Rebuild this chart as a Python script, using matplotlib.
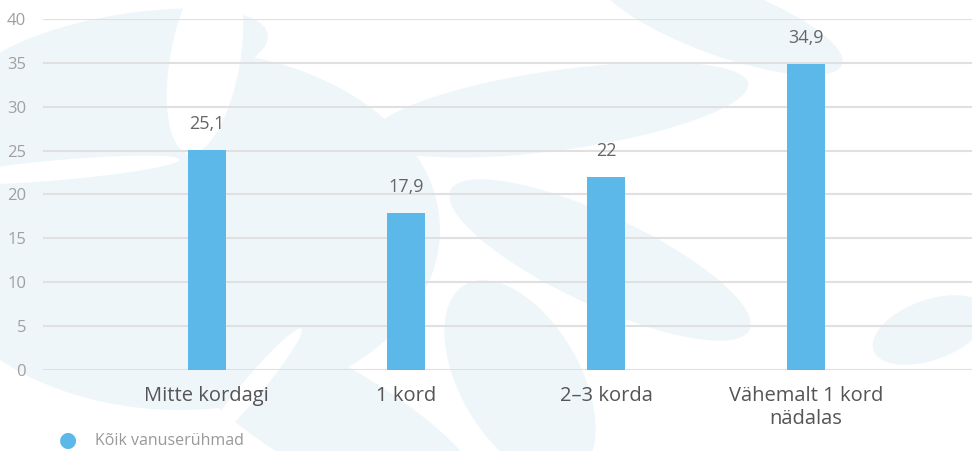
import matplotlib.pyplot as plt
from matplotlib.patches import Ellipse

categories = ['Mitte kordagi', '1 kord', '2–3 korda', 'Vähemalt 1 kord\nnädalas']
values = [25.1, 17.9, 22, 34.9]
value_labels = ['25,1', '17,9', '22', '34,9']
series_name = 'Kõik vanuserühmad'
y_ticks = [0, 5, 10, 15, 20, 25, 30, 35, 40]

bar_color = '#5db8ea'
leaf_color = '#eff6fa'

plt.rcParams['font.family'] = ['Open Sans', 'DejaVu Sans']

fig = plt.figure(figsize=(9.72, 4.51), dpi=100)

# faint leaf watermark behind the chart
bg = fig.add_axes([0, 0, 1, 1], zorder=0)
bg.set_xlim(0, 972)
bg.set_ylim(451, 0)
bg.axis('off')
leaves = [
    (180, 230, 520, 360, 0),
    (120, 60, 300, 90, -10),
    (330, 420, 360, 110, 30),
    (560, 110, 380, 80, -8),
    (600, 260, 330, 90, 25),
    (520, 380, 220, 120, 60),
    (720, 20, 260, 70, 20),
    (930, 330, 120, 60, -20),
    (40, 300, 180, 80, 35),
]
for cx, cy, w, h, ang in leaves:
    bg.add_patch(Ellipse((cx, cy), w, h, angle=ang, color=leaf_color, lw=0))
# white gaps in the watermark
for cx, cy, w, h, ang in [(205, 60, 70, 190, 10), (60, 170, 240, 20, -5), (250, 390, 20, 160, 40)]:
    bg.add_patch(Ellipse((cx, cy), w, h, angle=ang, color='white', lw=0))

ax = fig.add_axes([0.044, 0.18, 0.956, 0.778], zorder=1)
ax.patch.set_alpha(0)

x = range(len(categories))
bars = ax.bar(x, values, width=0.19, color=bar_color, zorder=3)

for b, lab in zip(bars, value_labels):
    ax.annotate(lab, (b.get_x() + b.get_width() / 2, b.get_height()),
                xytext=(0, 12), textcoords='offset points',
                ha='center', va='bottom', fontsize=13, color='#666666')

ax.set_ylim(0, 40)
ax.set_xlim(-0.82, 3.83)
ax.set_yticks(y_ticks)
ax.set_xticks(list(x))
ax.set_xticklabels(categories, fontsize=14.5, color='#555555', linespacing=1.2)
ax.tick_params(axis='y', length=0, labelsize=12, labelcolor='#a0a0a0', pad=12)
ax.tick_params(axis='x', length=0, pad=12)
ax.yaxis.grid(True, color='#e0e0e0', lw=1.5, zorder=0)
for s in ax.spines.values():
    s.set_visible(False)

# legend
fig.text(0.070, 0.024, '●', fontsize=15, color=bar_color, ha='center', va='center',
         family='DejaVu Sans')
fig.text(0.098, 0.022, series_name, fontsize=11.5, color='#999999', ha='left', va='center')

fig.savefig('out.png', dpi=100)
